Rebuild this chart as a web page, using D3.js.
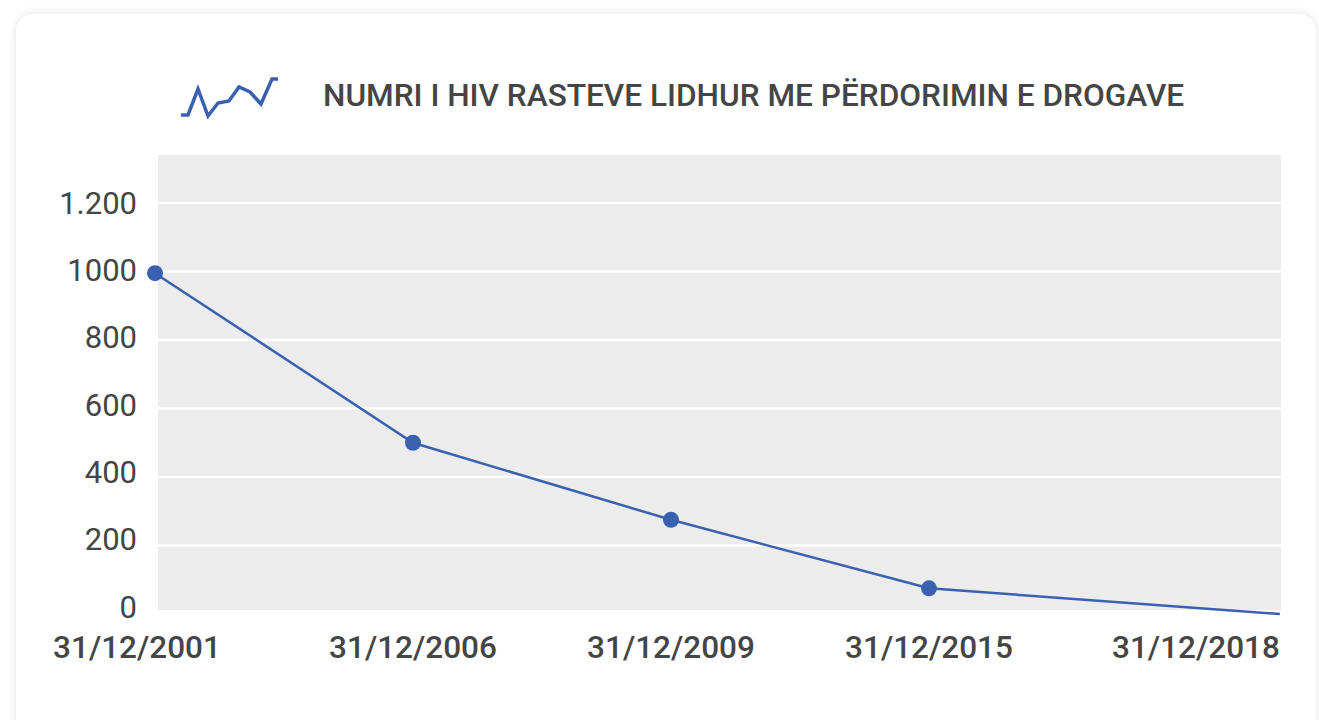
<!DOCTYPE html>
<html>
<head>
<meta charset="utf-8">
<script src="https://cdn.jsdelivr.net/npm/d3@7"></script>
<style>
  body { margin: 0; background: #ffffff; font-family: Roboto, "Noto Sans", sans-serif; }
  svg { display: block; }
</style>
</head>
<body>
<div id="chart"></div>
<script>
// data
const dates = ["31/12/2001", "31/12/2006", "31/12/2009", "31/12/2015", "31/12/2018"];
const cases = [995, 500, 275, 75, 0];
// x slots: the last date sits against the right edge of the plot
const slots = [0, 1, 2, 3, 4.36];
const yTicks = [0, 200, 400, 600, 800, 1000, 1200];
const yTickLabels = ["0", "200", "400", "600", "800", "1000", "1.200"];
const title = "NUMRI I HIV RASTEVE LIDHUR ME PËRDORIMIN E DROGAVE";

const width = 1319, height = 720;
const plot = { left: 158, right: 1281, top: 155, bottom: 610 };
const blue = "#3a61b0";
const textCol = "#454545";

const svg = d3.select("#chart")
  .append("svg")
  .attr("width", width)
  .attr("height", height);

// card with soft shadow
const defs = svg.append("defs");
const f = defs.append("filter").attr("id", "shadow")
  .attr("x", "-5%").attr("y", "-5%").attr("width", "110%").attr("height", "110%");
f.append("feDropShadow")
  .attr("dx", 0).attr("dy", 0).attr("stdDeviation", 5)
  .attr("flood-color", "#000").attr("flood-opacity", 0.12);

svg.append("rect")
  .attr("x", 16).attr("y", 14)
  .attr("width", 1300).attr("height", 760)
  .attr("rx", 18)
  .attr("fill", "#fff")
  .attr("filter", "url(#shadow)");

// scales
const x = d3.scaleLinear().domain([0, 3]).range([155, 929]);
const y = d3.scaleLinear().domain([0, 1200]).range([614, 203]);
const yLabelPos = d3.scaleLinear().domain([0, 1200]).range([606, 202]);

// plot background
svg.append("rect")
  .attr("x", plot.left).attr("y", plot.top)
  .attr("width", plot.right - plot.left)
  .attr("height", plot.bottom - plot.top)
  .attr("fill", "#ebeceb");

// gridlines
svg.append("g")
  .selectAll("line")
  .data(yTicks.filter((d) => d > 0))
  .join("line")
  .attr("x1", plot.left).attr("x2", plot.right)
  .attr("y1", (d) => y(d)).attr("y2", (d) => y(d))
  .attr("stroke", "#fff")
  .attr("stroke-width", 2.5);

// y axis
const yAxisG = svg.append("g")
  .attr("transform", "translate(137,0)")
  .call(d3.axisLeft(yLabelPos)
    .tickValues(yTicks)
    .tickSize(0)
    .tickPadding(0)
    .tickFormat((d, i) => yTickLabels[i]));
yAxisG.select(".domain").remove();
yAxisG.selectAll("text")
  .attr("font-family", "Roboto")
  .attr("font-size", 31)
  .attr("fill", textCol)
  .attr("dy", "0.36em");

// x axis labels
const xAxisG = svg.append("g");
xAxisG.selectAll("text")
  .data(dates)
  .join("text")
  .attr("x", (d, i) => {
    if (i === 0) return x(slots[i]) - 18;
    return x(slots[i]);
  })
  .attr("y", 658)
  .attr("text-anchor", (d, i) => (i === dates.length - 1 ? "end" : "middle"))
  .attr("font-family", "Roboto")
  .attr("font-size", 31.5)
  .attr("font-weight", 500)
  .attr("fill", textCol)
  .text((d) => d);

// line
const line = d3.line()
  .x((d, i) => x(slots[i]))
  .y((d) => y(d));

svg.append("path")
  .datum(cases)
  .attr("d", line)
  .attr("fill", "none")
  .attr("stroke", blue)
  .attr("stroke-width", 2.5);

// markers (the last point has none in the original)
svg.append("g")
  .selectAll("circle")
  .data(cases.slice(0, cases.length - 1))
  .join("circle")
  .attr("cx", (d, i) => x(slots[i]))
  .attr("cy", (d) => y(d))
  .attr("r", 8)
  .attr("fill", blue);

// legend icon + title
const icon = [[181, 115], [188, 115], [198, 89], [208, 116], [218, 103], [229, 101],
  [239, 87], [250, 92], [261, 104], [272, 79], [278, 79]];
svg.append("polyline")
  .attr("points", icon.map((p) => p.join(",")).join(" "))
  .attr("fill", "none")
  .attr("stroke", blue)
  .attr("stroke-width", 3.5);

svg.append("text")
  .attr("x", 323)
  .attr("y", 106)
  .attr("font-family", "Roboto")
  .attr("font-size", 31.6)
  .attr("font-weight", 500)
  .attr("fill", textCol)
  .text(title);
</script>
</body>
</html>
